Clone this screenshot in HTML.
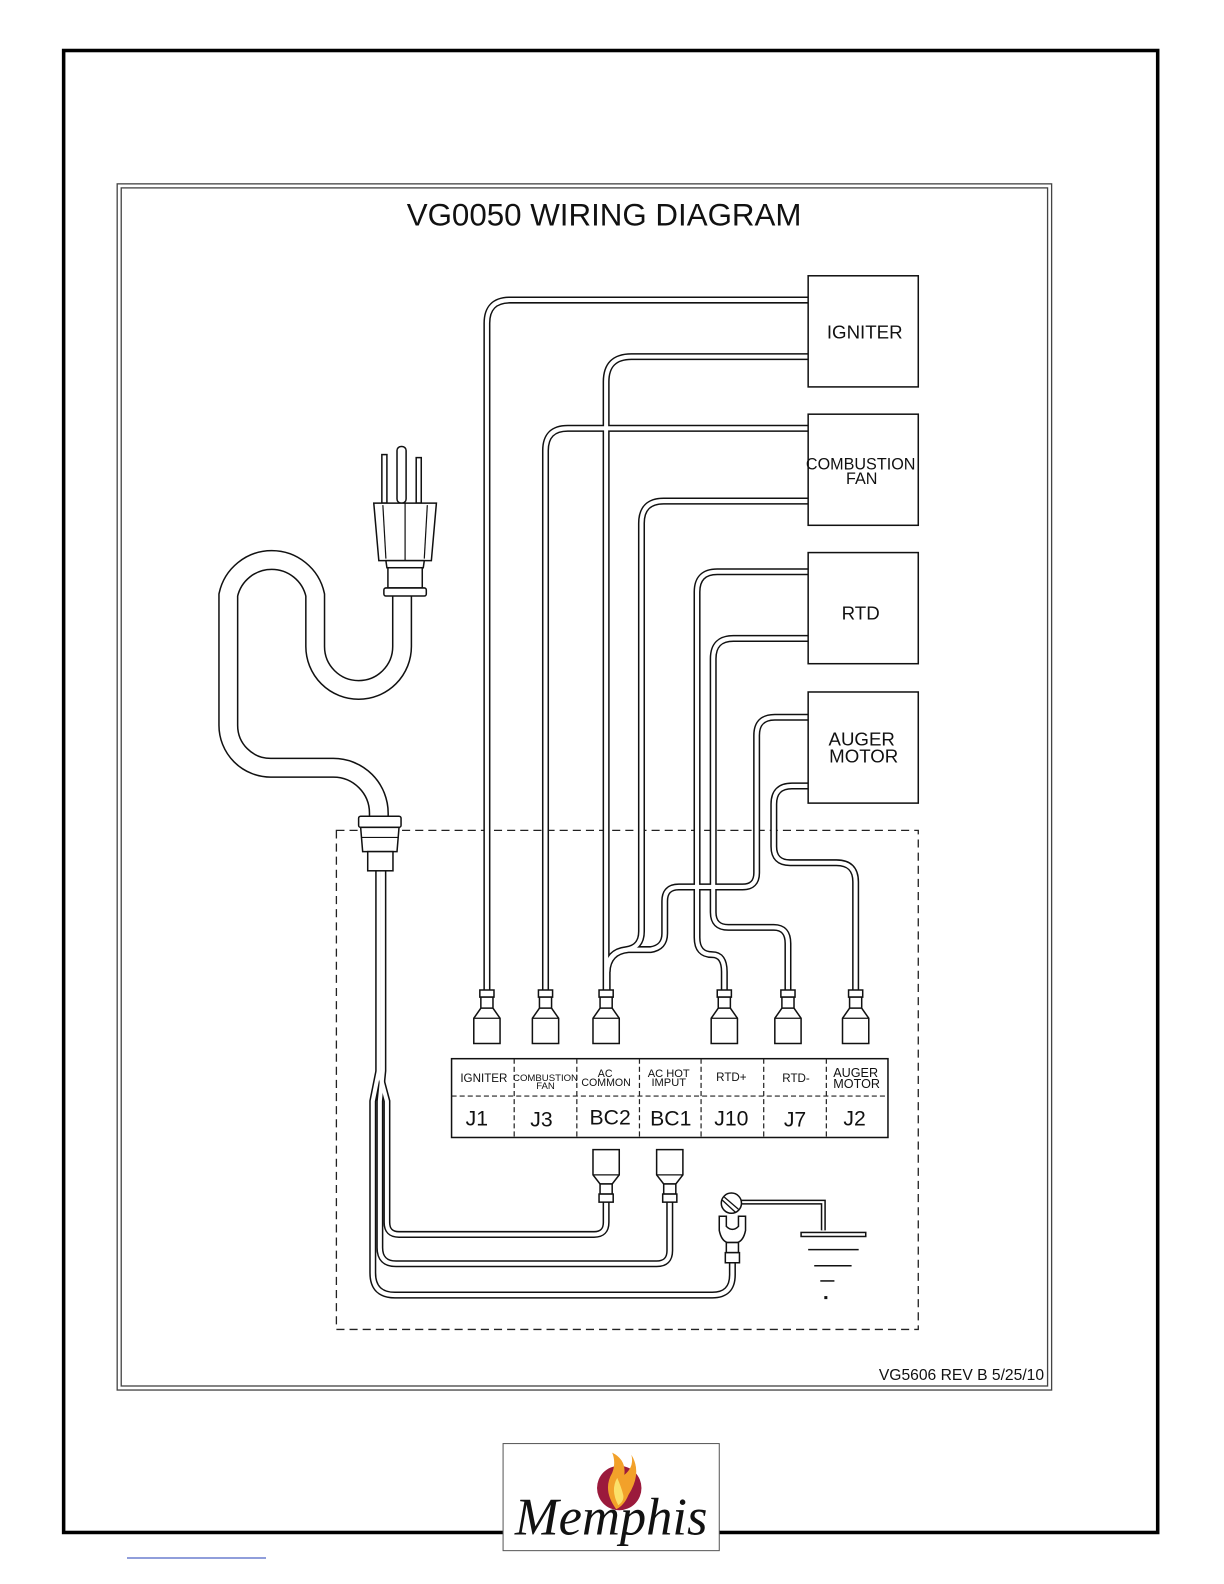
<!DOCTYPE html>
<html><head><meta charset="utf-8"><style>html,body{margin:0;padding:0;background:#fff}svg{display:block}</style></head>
<body>
<svg width="1224" height="1584" viewBox="0 0 1224 1584" xmlns="http://www.w3.org/2000/svg">
<defs>
<style>
.wo{fill:none;stroke:#111;stroke-width:7}
.wi{fill:none;stroke:#fff;stroke-width:4}
.ln{fill:#fff;stroke:#111;stroke-width:1.5}
.t{font-family:"Liberation Sans",sans-serif;fill:#111}
</style>
</defs>
<g transform="scale(1.0102)">
<rect x="63" y="50" width="1083" height="1467" fill="none" stroke="#000" stroke-width="3.5"/>
<rect x="116" y="182" width="925" height="1194" fill="none" stroke="#444" stroke-width="1.3"/>
<rect x="120" y="186" width="917" height="1186" fill="none" stroke="#444" stroke-width="1.3"/>
<text x="598" y="223" text-anchor="middle" class="t" font-size="31">VG0050 WIRING DIAGRAM</text>
<text x="870" y="1366" class="t" font-size="15.5">VG5606 REV B 5/25/10</text>

<rect x="333" y="822" width="576" height="494" fill="none" stroke="#222" stroke-width="1.3" stroke-dasharray="8,5"/>

<!-- power cord -->
<g fill="none">
<path d="M398 585 V640 A43 43 0 0 1 312 640 V589 A44 44 0 0 0 226 589 V718 A42 42 0 0 0 268 760 H330 A45 45 0 0 1 375 805 V812" stroke="#111" stroke-width="20"/>
<path d="M398 585 V640 A43 43 0 0 1 312 640 V589 A44 44 0 0 0 226 589 V718 A42 42 0 0 0 268 760 H330 A45 45 0 0 1 375 805 V812" stroke="#fff" stroke-width="17"/>
</g>
<!-- plug -->
<rect x="378" y="450" width="5" height="48" class="ln"/>
<rect x="393" y="442" width="9" height="56" rx="4" class="ln"/>
<rect x="412" y="453" width="5" height="45" class="ln"/>
<path d="M370 498 H432 L427 555 H375 Z" class="ln"/>
<line x1="379" y1="500" x2="382" y2="553" stroke="#111" stroke-width="1.2"/>
<line x1="423" y1="500" x2="420" y2="553" stroke="#111" stroke-width="1.2"/>
<line x1="401" y1="498" x2="401" y2="555" stroke="#111" stroke-width="1.2"/>
<path d="M382 555 H420 L419 562 H383 Z" class="ln"/>
<rect x="384" y="562" width="34" height="20" class="ln"/>
<rect x="380" y="582" width="42" height="8" rx="2" class="ln"/>

<!-- cord wires inside -->
<g>
<path class="wo" d="M375 860 V1060 L383 1090 V1210 Q383 1222 395 1222 H588 Q600 1222 600 1210 V1190"/>
<path class="wo" d="M379 860 V1060 L376 1090 V1235 Q376 1251 392 1251 H650 Q663 1251 663 1238 V1190"/>
<path class="wo" d="M375 860 V1060 L369 1090 V1260 Q369 1282 391 1282 H705 Q725 1282 725 1262 V1250"/>
<path class="wi" d="M375 860 V1060 L383 1090 V1210 Q383 1222 395 1222 H588 Q600 1222 600 1210 V1190"/>
<path class="wi" d="M379 860 V1060 L376 1090 V1235 Q376 1251 392 1251 H650 Q663 1251 663 1238 V1190"/>
<path class="wi" d="M375 860 V1060 L369 1090 V1260 Q369 1282 391 1282 H705 Q725 1282 725 1262 V1250"/>
</g>
<!-- gland -->
<rect x="355" y="808" width="42" height="11" rx="2" class="ln"/>
<path d="M357 819 H395 L393 843 H359 Z" class="ln"/>
<line x1="358" y1="829" x2="394" y2="829" stroke="#111" stroke-width="1.2"/>
<rect x="364" y="843" width="25" height="19" class="ln"/>

<!-- component wires -->
<g>
<path class="wo" d="M800 297 H505 Q482 297 482 320 V985"/>
<path class="wo" d="M800 353 H625 Q600 353 600 378 V985"/>
<path class="wo" d="M800 424 H562 Q540 424 540 446 V985"/>
<path class="wo" d="M800 496 H657 Q635 496 635 518 V922 Q635 938 620 940 Q602 942 601 960 V985"/>
<path class="wo" d="M800 566 H710 Q690 566 690 586 V928 Q690 945 705 945 Q717 945 717 962 V985"/>
<path class="wo" d="M800 632 H726 Q706 632 706 652 V903 Q706 918 721 918 H766 Q780 918 780 934 V985"/>
<path class="wo" d="M800 710 H767 Q749 710 749 728 V864 Q749 878 735 878 H672 Q658 878 658 892 V924 Q658 938 644 940 H622 Q602 942 601 962"/>
<path class="wo" d="M800 778 H784 Q766 778 766 796 V838 Q766 854 782 854 H828 Q847 854 847 873 V985"/>
<path class="wi" d="M800 297 H505 Q482 297 482 320 V985"/>
<path class="wi" d="M800 353 H625 Q600 353 600 378 V985"/>
<path class="wi" d="M800 424 H562 Q540 424 540 446 V985"/>
<path class="wi" d="M800 496 H657 Q635 496 635 518 V922 Q635 938 620 940 Q602 942 601 960 V985"/>
<path class="wi" d="M800 566 H710 Q690 566 690 586 V928 Q690 945 705 945 Q717 945 717 962 V985"/>
<path class="wi" d="M800 632 H726 Q706 632 706 652 V903 Q706 918 721 918 H766 Q780 918 780 934 V985"/>
<path class="wi" d="M800 710 H767 Q749 710 749 728 V864 Q749 878 735 878 H672 Q658 878 658 892 V924 Q658 938 644 940 H622 Q602 942 601 962"/>
<path class="wi" d="M800 778 H784 Q766 778 766 796 V838 Q766 854 782 854 H828 Q847 854 847 873 V985"/>
</g>

<!-- component boxes -->
<g fill="#fff" stroke="#111" stroke-width="1.5">
<rect x="800" y="273" width="109" height="110"/>
<rect x="800" y="410" width="109" height="110"/>
<rect x="800" y="547" width="109" height="110"/>
<rect x="800" y="685" width="109" height="110"/>
</g>
<g class="t" font-size="18.5" text-anchor="middle">
<text x="856" y="335">IGNITER</text>
<text x="852" y="465" font-size="16">COMBUSTION</text>
<text x="853" y="479" font-size="16">FAN</text>
<text x="852" y="613">RTD</text>
<text x="853" y="738">AUGER</text>
<text x="855" y="755">MOTOR</text>
</g>

<!-- top connectors -->
<g id="tc">
<path d="M475 980 H489 V987 H475 Z M476 987 H488 V998 H476 Z M476 998 H488 L495 1008 V1033 H469 V1008 Z" class="ln"/>
<line x1="469" y1="1008" x2="495" y2="1008" stroke="#111" stroke-width="1.2"/>
</g>
<use href="#tc" x="58"/>
<use href="#tc" x="118"/>
<use href="#tc" x="235"/>
<use href="#tc" x="298"/>
<use href="#tc" x="365"/>

<!-- table -->
<rect x="447" y="1048" width="432" height="78" fill="#fff" stroke="#111" stroke-width="1.5"/>
<line x1="447" y1="1085" x2="879" y2="1085" stroke="#222" stroke-width="1.2" stroke-dasharray="5,3"/>
<g stroke="#222" stroke-width="1.2" stroke-dasharray="5,3">
<line x1="509" y1="1048" x2="509" y2="1126"/><line x1="571" y1="1048" x2="571" y2="1126"/>
<line x1="633" y1="1048" x2="633" y2="1126"/><line x1="694" y1="1048" x2="694" y2="1126"/>
<line x1="756" y1="1048" x2="756" y2="1126"/><line x1="818" y1="1048" x2="818" y2="1126"/>
</g>
<g class="t" text-anchor="middle" font-size="11.5">
<text x="479" y="1071">IGNITER</text>
<text x="540" y="1070" font-size="9.5">COMBUSTION</text><text x="540" y="1078" font-size="9.5">FAN</text>
<text x="599" y="1066" font-size="10.5">AC</text><text x="600" y="1075" font-size="10.5">COMMON</text>
<text x="662" y="1066" font-size="11">AC HOT</text><text x="662" y="1075" font-size="11">IMPUT</text>
<text x="724" y="1070">RTD+</text>
<text x="788" y="1071">RTD-</text>
<text x="847" y="1066" font-size="12.5">AUGER</text><text x="848" y="1077" font-size="12.5">MOTOR</text>
</g>
<g class="t" text-anchor="middle" font-size="21">
<text x="472" y="1114">J1</text><text x="536" y="1115">J3</text><text x="604" y="1113">BC2</text>
<text x="664" y="1114">BC1</text><text x="724" y="1114">J10</text><text x="787" y="1115">J7</text><text x="846" y="1114">J2</text>
</g>

<!-- bottom connectors -->
<g id="bc">
<path d="M587 1138 H613 V1163 L606 1172 H594 L587 1163 Z" class="ln"/>
<line x1="587" y1="1163" x2="613" y2="1163" stroke="#111" stroke-width="1.2"/>
<rect x="594" y="1172" width="12" height="10" class="ln"/>
<rect x="593" y="1182" width="14" height="8" class="ln"/>
</g>
<use href="#bc" x="63"/>

<!-- ground -->
<path d="M734 1190 H815 V1218" fill="none" stroke="#111" stroke-width="5"/>
<path d="M734 1190 H815 V1218" fill="none" stroke="#fff" stroke-width="2"/>
<circle cx="724" cy="1191" r="10" class="ln"/>
<line x1="717" y1="1185" x2="731" y2="1197" stroke="#111" stroke-width="1.3"/>
<line x1="715" y1="1188" x2="728" y2="1200" stroke="#111" stroke-width="1.3"/>
<path d="M712 1204 H719 V1214 Q725 1220 731 1214 V1204 H738 V1218 Q736 1228 730 1230 H720 Q714 1228 712 1218 Z" class="ln"/>
<rect x="719" y="1230" width="12" height="10" class="ln"/>
<rect x="718" y="1240" width="14" height="10" class="ln"/>
<rect x="793" y="1220" width="64" height="4" class="ln"/>
<line x1="800" y1="1237" x2="850" y2="1237" stroke="#111" stroke-width="1.5"/>
<line x1="806" y1="1253" x2="843" y2="1253" stroke="#111" stroke-width="1.5"/>
<line x1="812" y1="1268" x2="826" y2="1268" stroke="#111" stroke-width="1.5"/>
<rect x="816" y="1283" width="3" height="3" fill="#111"/>

<!-- logo -->
<rect x="498" y="1429" width="214" height="106" fill="#fff" stroke="#555" stroke-width="1"/>
<circle cx="613" cy="1473" r="22" fill="#9b1a3c"/>
<path d="M610 1494 Q596 1475 606 1458 Q610 1448 606 1438 Q620 1445 618 1460 Q628 1452 625 1440 Q636 1458 622 1480 Q618 1490 610 1494 Z" fill="#f2a12a"/>
<path d="M612 1490 Q604 1475 611 1463 Q615 1472 617 1480 Q618 1486 612 1490 Z" fill="#fbe06a"/>
<text x="605" y="1519" text-anchor="middle" font-family="Liberation Serif,serif" font-style="italic" font-size="52" fill="#111">Memphis</text>
</g>
<line x1="127" y1="1558" x2="266" y2="1558" stroke="#6b7fcf" stroke-width="1.5"/>
</svg>
</body></html>
